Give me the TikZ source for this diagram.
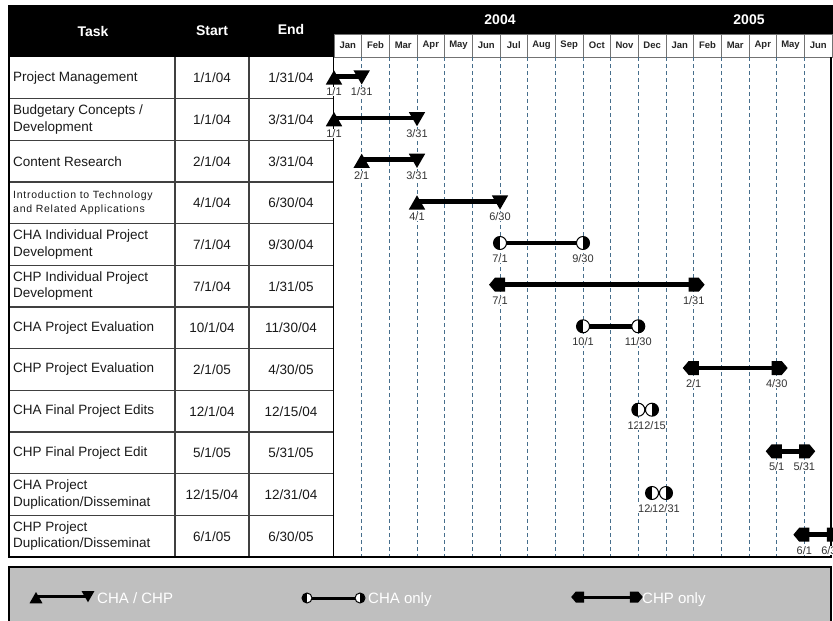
\documentclass[tikz,border=0pt]{standalone}
\usepackage{fontspec}
\setmainfont{Liberation Sans}
\newfontfamily\spacedfont[LetterSpace=7]{Liberation Sans}
\usetikzlibrary{shapes.geometric,shapes.symbols}

\begin{document}
\begin{tikzpicture}[x=1pt,y=-1pt,font=\fontsize{13.5}{16.5}\selectfont,
  hdr/.style={text=white,inner sep=0pt,font=\fontsize{14}{16}\selectfont\bfseries},
  mcell/.style={draw=black!55,fill=white,line width=.8pt,minimum width=27.67pt,minimum height=23pt,inner sep=0pt,text=black!85,font=\fontsize{9.5}{10}\selectfont\bfseries},
  grid/.style={draw={rgb,255:red,70;green,110;blue,140},line width=.9pt,dash pattern=on 4pt off 3pt},
  rowline/.style={draw=black!75,line width=1.3pt},
  tasktxt/.style={anchor=west,align=left,inner sep=0pt,text=black!90},
  datetxt/.style={inner sep=0pt,text=black!90},
  bar/.style={line width=4.5pt},
  triup/.style={regular polygon,regular polygon sides=3,fill=black,minimum size=19pt,inner sep=0pt,yshift=-3.5pt},
  tridown/.style={regular polygon,regular polygon sides=3,shape border rotate=180,fill=black,minimum size=19pt,inner sep=0pt,yshift=1.25pt},
  chas/.style={circle,draw=black,fill=white,line width=1pt,minimum size=13pt,inner sep=0pt,path picture={\fill[black] (path picture bounding box.south west) rectangle (path picture bounding box.north);}},
  chae/.style={circle,draw=black,fill=white,line width=1pt,minimum size=13pt,inner sep=0pt,path picture={\fill[black] (path picture bounding box.north east) rectangle (path picture bounding box.south);}},
  chps/.style={signal,signal to=west,fill=black,minimum width=16pt,minimum height=14pt,inner sep=0pt,signal pointer angle=100},
  chpe/.style={signal,signal to=east,fill=black,minimum width=16pt,minimum height=14pt,inner sep=0pt,signal pointer angle=100},
  datelbl/.style={fill=white,inner sep=.6pt,text=black!80,font=\fontsize{11}{12}\selectfont,yshift=-15.5pt},
  keytxt/.style={anchor=base west,inner sep=0pt,text=white,font=\fontsize{15}{16}\selectfont}]
\path[use as bounding box] (0,0) rectangle (833,621);
\clip (0,0) rectangle (833,621);
\fill[black] (9,5) rectangle (833,57);
\node[hdr] (hTask) at (93,31) {Task};
\node[hdr] (hStart) at (212,31) {Start};
\node[hdr] (hEnd) at (291,29) {End};
\node[hdr] (y2004) at (500,20) {2004};
\node[hdr] (y2005) at (749,20) {2005};
\node[mcell] (m1) at (347.8,45.5) {Jan};
\node[mcell] (m2) at (375.5,45.5) {Feb};
\node[mcell] (m3) at (403.2,45.5) {Mar};
\node[mcell] (m4) at (430.8,45.5) {Apr};
\node[mcell] (m5) at (458.5,45.5) {May};
\node[mcell] (m6) at (486.2,45.5) {Jun};
\node[mcell] (m7) at (513.8,45.5) {Jul};
\node[mcell] (m8) at (541.5,45.5) {Aug};
\node[mcell] (m9) at (569.2,45.5) {Sep};
\node[mcell] (m10) at (596.8,45.5) {Oct};
\node[mcell] (m11) at (624.5,45.5) {Nov};
\node[mcell] (m12) at (652.2,45.5) {Dec};
\node[mcell] (m13) at (679.8,45.5) {Jan};
\node[mcell] (m14) at (707.5,45.5) {Feb};
\node[mcell] (m15) at (735.2,45.5) {Mar};
\node[mcell] (m16) at (762.8,45.5) {Apr};
\node[mcell] (m17) at (790.5,45.5) {May};
\node[mcell] (m18) at (818.2,45.5) {Jun};
\draw[grid] (361.7,57) -- (361.7,557);
\draw[grid] (389.3,57) -- (389.3,557);
\draw[grid] (417,57) -- (417,557);
\draw[grid] (444.7,57) -- (444.7,557);
\draw[grid] (472.3,57) -- (472.3,557);
\draw[grid] (500,57) -- (500,557);
\draw[grid] (527.7,57) -- (527.7,557);
\draw[grid] (555.3,57) -- (555.3,557);
\draw[grid] (583,57) -- (583,557);
\draw[grid] (610.7,57) -- (610.7,557);
\draw[grid] (638.3,57) -- (638.3,557);
\draw[grid] (666,57) -- (666,557);
\draw[grid] (693.7,57) -- (693.7,557);
\draw[grid] (721.3,57) -- (721.3,557);
\draw[grid] (749,57) -- (749,557);
\draw[grid] (776.7,57) -- (776.7,557);
\draw[grid] (804.3,57) -- (804.3,557);
\draw[rowline] (9,98.7) -- (334,98.7);
\draw[rowline] (9,140.3) -- (334,140.3);
\draw[rowline] (9,182) -- (334,182);
\draw[rowline] (9,223.7) -- (334,223.7);
\draw[rowline] (9,265.3) -- (334,265.3);
\draw[rowline] (9,307) -- (334,307);
\draw[rowline] (9,348.7) -- (334,348.7);
\draw[rowline] (9,390.3) -- (334,390.3);
\draw[rowline] (9,432) -- (334,432);
\draw[rowline] (9,473.7) -- (334,473.7);
\draw[rowline] (9,515.3) -- (334,515.3);
\draw[rowline] (175,57) -- (175,557);
\draw[rowline] (249,57) -- (249,557);
\draw[line width=1.6pt] (333.5,57) -- (333.5,557);
\draw[line width=2pt] (9,5) -- (9,557) -- (831,557) -- (831,57);
\node[tasktxt] (t1) at (13,77.8) {Project Management};
\node[datetxt] (a1) at (212,77.8) {1/1/04};
\node[datetxt] (z1) at (291,77.8) {1/31/04};
\node[tasktxt] (t2) at (13,119.5) {Budgetary Concepts /\\Development};
\node[datetxt] (a2) at (212,119.5) {1/1/04};
\node[datetxt] (z2) at (291,119.5) {3/31/04};
\node[tasktxt] (t3) at (13,161.2) {Content Research};
\node[datetxt] (a3) at (212,161.2) {2/1/04};
\node[datetxt] (z3) at (291,161.2) {3/31/04};
\node[tasktxt,font={\spacedfont\fontsize{10.5}{14}\selectfont}] (t4) at (13,202.8) {Introduction to Technology\\and Related Applications};
\node[datetxt] (a4) at (212,202.8) {4/1/04};
\node[datetxt] (z4) at (291,202.8) {6/30/04};
\node[tasktxt] (t5) at (13,244.5) {CHA Individual Project\\Development};
\node[datetxt] (a5) at (212,244.5) {7/1/04};
\node[datetxt] (z5) at (291,244.5) {9/30/04};
\node[tasktxt] (t6) at (13,286.2) {CHP Individual Project\\Development};
\node[datetxt] (a6) at (212,286.2) {7/1/04};
\node[datetxt] (z6) at (291,286.2) {1/31/05};
\node[tasktxt] (t7) at (13,327.8) {CHA Project Evaluation};
\node[datetxt] (a7) at (212,327.8) {10/1/04};
\node[datetxt] (z7) at (291,327.8) {11/30/04};
\node[tasktxt] (t8) at (13,369.5) {CHP Project Evaluation};
\node[datetxt] (a8) at (212,369.5) {2/1/05};
\node[datetxt] (z8) at (291,369.5) {4/30/05};
\node[tasktxt] (t9) at (13,411.2) {CHA Final Project Edits};
\node[datetxt] (a9) at (212,411.2) {12/1/04};
\node[datetxt] (z9) at (291,411.2) {12/15/04};
\node[tasktxt] (t10) at (13,452.8) {CHP Final Project Edit};
\node[datetxt] (a10) at (212,452.8) {5/1/05};
\node[datetxt] (z10) at (291,452.8) {5/31/05};
\node[tasktxt] (t11) at (13,494.5) {CHA Project\\Duplication/Disseminat};
\node[datetxt] (a11) at (212,494.5) {12/15/04};
\node[datetxt] (z11) at (291,494.5) {12/31/04};
\node[tasktxt] (t12) at (13,536.2) {CHP Project\\Duplication/Disseminat};
\node[datetxt] (a12) at (212,536.2) {6/1/05};
\node[datetxt] (z12) at (291,536.2) {6/30/05};
\coordinate (s1) at (334,76.3);
\coordinate (e1) at (361.7,76.3);
\draw[bar] (s1) -- (e1);
\node[triup] (s1m) at (s1) {};
\node[tridown] (e1m) at (e1) {};
\node[datelbl] (s1l) at (s1) {1/1};
\node[datelbl] (e1l) at (e1) {1/31};
\coordinate (s2) at (334,118);
\coordinate (e2) at (417,118);
\draw[bar] (s2) -- (e2);
\node[triup] (s2m) at (s2) {};
\node[tridown] (e2m) at (e2) {};
\node[datelbl] (s2l) at (s2) {1/1};
\node[datelbl] (e2l) at (e2) {3/31};
\coordinate (s3) at (361.7,159.7);
\coordinate (e3) at (417,159.7);
\draw[bar] (s3) -- (e3);
\node[triup] (s3m) at (s3) {};
\node[tridown] (e3m) at (e3) {};
\node[datelbl] (s3l) at (s3) {2/1};
\node[datelbl] (e3l) at (e3) {3/31};
\coordinate (s4) at (417,201.3);
\coordinate (e4) at (500,201.3);
\draw[bar] (s4) -- (e4);
\node[triup] (s4m) at (s4) {};
\node[tridown] (e4m) at (e4) {};
\node[datelbl] (s4l) at (s4) {4/1};
\node[datelbl] (e4l) at (e4) {6/30};
\coordinate (s5) at (500,243);
\coordinate (e5) at (583,243);
\draw[bar] (s5) -- (e5);
\node[chas] (s5m) at (s5) {};
\node[chae] (e5m) at (e5) {};
\node[datelbl] (s5l) at (s5) {7/1};
\node[datelbl] (e5l) at (e5) {9/30};
\coordinate (s6) at (500,284.7);
\coordinate (e6) at (693.7,284.7);
\draw[bar] (s6) -- (e6);
\node[chps] (s6m) at (s6) {};
\node[chpe] (e6m) at (e6) {};
\node[datelbl] (s6l) at (s6) {7/1};
\node[datelbl] (e6l) at (e6) {1/31};
\coordinate (s7) at (583,326.3);
\coordinate (e7) at (638.3,326.3);
\draw[bar] (s7) -- (e7);
\node[chas] (s7m) at (s7) {};
\node[chae] (e7m) at (e7) {};
\node[datelbl] (s7l) at (s7) {10/1};
\node[datelbl] (e7l) at (e7) {11/30};
\coordinate (s8) at (693.7,368);
\coordinate (e8) at (776.7,368);
\draw[bar] (s8) -- (e8);
\node[chps] (s8m) at (s8) {};
\node[chpe] (e8m) at (e8) {};
\node[datelbl] (s8l) at (s8) {2/1};
\node[datelbl] (e8l) at (e8) {4/30};
\coordinate (s9) at (638.3,409.7);
\coordinate (e9) at (652,409.7);
\draw[bar] (s9) -- (e9);
\node[chas] (s9m) at (s9) {};
\node[chae] (e9m) at (e9) {};
\node[datelbl] (s9l) at (s9) {12/1};
\node[datelbl] (e9l) at (e9) {12/15};
\coordinate (s10) at (776.7,451.3);
\coordinate (e10) at (804.3,451.3);
\draw[bar] (s10) -- (e10);
\node[chps] (s10m) at (s10) {};
\node[chpe] (e10m) at (e10) {};
\node[datelbl] (s10l) at (s10) {5/1};
\node[datelbl] (e10l) at (e10) {5/31};
\coordinate (s11) at (652,493);
\coordinate (e11) at (666,493);
\draw[bar] (s11) -- (e11);
\node[chas] (s11m) at (s11) {};
\node[chae] (e11m) at (e11) {};
\node[datelbl] (s11l) at (s11) {12/15};
\node[datelbl] (e11l) at (e11) {12/31};
\coordinate (s12) at (804.3,534.7);
\coordinate (e12) at (832,534.7);
\draw[bar] (s12) -- (e12);
\node[chps] (s12m) at (s12) {};
\node[chpe] (e12m) at (e12) {};
\node[datelbl] (s12l) at (s12) {6/1};
\node[datelbl] (e12l) at (e12) {6/30};
\draw[fill=black!25,line width=2pt] (9,567) rectangle (831,640);
\coordinate (k1s) at (36,596);
\coordinate (k1e) at (88,596);
\draw[bar,line width=3pt] (k1s) -- (k1e);
\node[triup,minimum size=15pt] (k1sm) at (k1s) {};
\node[tridown,minimum size=15pt] (k1em) at (k1e) {};
\node[keytxt] (k1t) at (97,603) {CHA / CHP};
\coordinate (k2s) at (307,598);
\coordinate (k2e) at (360,598);
\draw[bar,line width=3pt] (k2s) -- (k2e);
\node[chas,minimum size=10pt] (k2sm) at (k2s) {};
\node[chae,minimum size=10pt] (k2em) at (k2e) {};
\node[keytxt] (k2t) at (368,603) {CHA only};
\coordinate (k3s) at (580,597);
\coordinate (k3e) at (634,597);
\draw[bar,line width=3pt] (k3s) -- (k3e);
\node[chps,minimum width=13pt,minimum height=11pt] (k3sm) at (k3s) {};
\node[chpe,minimum width=13pt,minimum height=11pt] (k3em) at (k3e) {};
\node[keytxt] (k3t) at (642,603) {CHP only};
\end{tikzpicture}
\end{document}
